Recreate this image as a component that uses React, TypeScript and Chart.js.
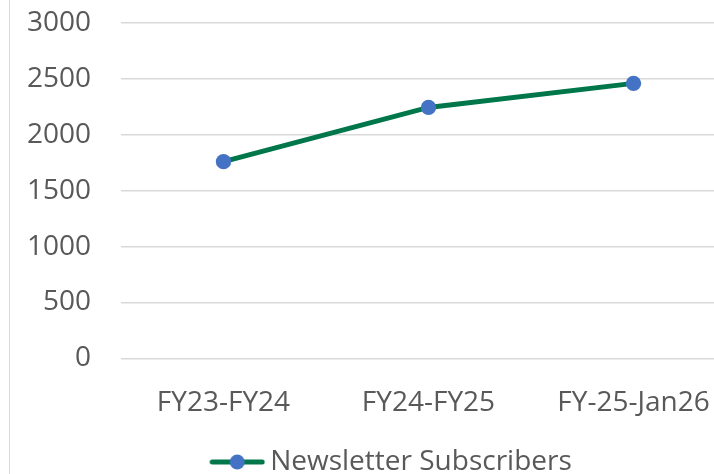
import React, { useEffect, useRef } from "react";
import { Chart, registerables } from "chart.js";

Chart.register(...registerables);

const categories: string[] = ["FY23-FY24", "FY24-FY25", "FY-25-Jan26"];
const subscribers: number[] = [1760, 2245, 2460];
const seriesLabel = "Newsletter Subscribers";
const yMin = 0;
const yMax = 3000;
const yStep = 500;

const LINE_COLOR = "#00774B";
const MARKER_COLOR = "#4472C4";
const TEXT_COLOR = "#595959";
const GRID_COLOR = "#d9d9d9";
const FONT = "'Open Sans', 'Noto Sans', sans-serif";

function makeLegendImage(): HTMLCanvasElement {
  const c = document.createElement("canvas");
  c.width = 56;
  c.height = 18;
  const ctx = c.getContext("2d")!;
  ctx.strokeStyle = LINE_COLOR;
  ctx.lineWidth = 5;
  ctx.lineCap = "round";
  ctx.beginPath();
  ctx.moveTo(3, 9);
  ctx.lineTo(53, 9);
  ctx.stroke();
  ctx.fillStyle = MARKER_COLOR;
  ctx.beginPath();
  ctx.arc(28, 9, 7.5, 0, Math.PI * 2);
  ctx.fill();
  return c;
}

export default function App() {
  const canvasRef = useRef<HTMLCanvasElement | null>(null);

  useEffect(() => {
    if (!canvasRef.current) return;
    const legendImg = makeLegendImage();
    const chart = new Chart(canvasRef.current, {
      type: "line",
      data: {
        labels: categories,
        datasets: [
          {
            label: seriesLabel,
            data: subscribers,
            borderColor: LINE_COLOR,
            backgroundColor: MARKER_COLOR,
            borderWidth: 5,
            pointRadius: 7.7,
            pointBackgroundColor: MARKER_COLOR,
            pointBorderColor: MARKER_COLOR,
            pointBorderWidth: 0,
            tension: 0,
            fill: false,
            yAxisID: "y",
          },
        ],
      },
      options: {
        responsive: false,
        animation: false,
        devicePixelRatio: 1,
        layout: { padding: { left: 0, right: 0, top: 23, bottom: 0 } },
        font: { family: FONT, size: 28 },
        scales: {
          x: {
            offset: true,
            grid: { display: false, drawTicks: false },
            border: { display: false },
            ticks: {
              color: TEXT_COLOR,
              padding: 28,
              font: { family: FONT, size: 28 },
              maxRotation: 0,
              autoSkip: false,
            },
          },
          y: {
            min: yMin,
            max: yMax,
            grid: { color: GRID_COLOR, lineWidth: 1.5, drawTicks: false },
            border: { display: false },
            ticks: {
              stepSize: yStep,
              color: TEXT_COLOR,
              padding: 30,
              font: { family: FONT, size: 28 },
              callback: (value: any) => String(value),
            },
            afterFit: (scale: any) => {
              scale.width = 111;
              scale.paddingTop = 17;
              scale.paddingBottom = 17;
            },
          },
          yRightSpace: {
            position: "right",
            min: yMin,
            max: yMax,
            grid: { display: false, drawTicks: false },
            border: { display: false },
            ticks: { display: false },
            afterFit: (scale: any) => {
              scale.width = 44;
              scale.paddingTop = 0;
              scale.paddingBottom = 0;
            },
          },
        },
        plugins: {
          legend: {
            position: "bottom",
            labels: {
              usePointStyle: true,
              pointStyle: legendImg as any,
              pointStyleWidth: 38,
              padding: 0,
              color: TEXT_COLOR,
              font: { family: FONT, size: 28 },
            },
          },
          tooltip: { enabled: false },
        },
      } as any,
    });
    return () => chart.destroy();
  }, []);

  return (
    <div
      style={{
        position: "fixed",
        left: 0,
        top: 0,
        width: 714,
        height: 474,
        overflow: "hidden",
        background: "#ffffff",
      }}
    >
      <div
        style={{
          position: "absolute",
          left: 9,
          top: 0,
          width: 1,
          height: 474,
          background: GRID_COLOR,
        }}
      />
      <canvas
        ref={canvasRef}
        width={770}
        height={486}
        style={{ position: "absolute", left: 10, top: 0, width: 770, height: 486 }}
      />
    </div>
  );
}
